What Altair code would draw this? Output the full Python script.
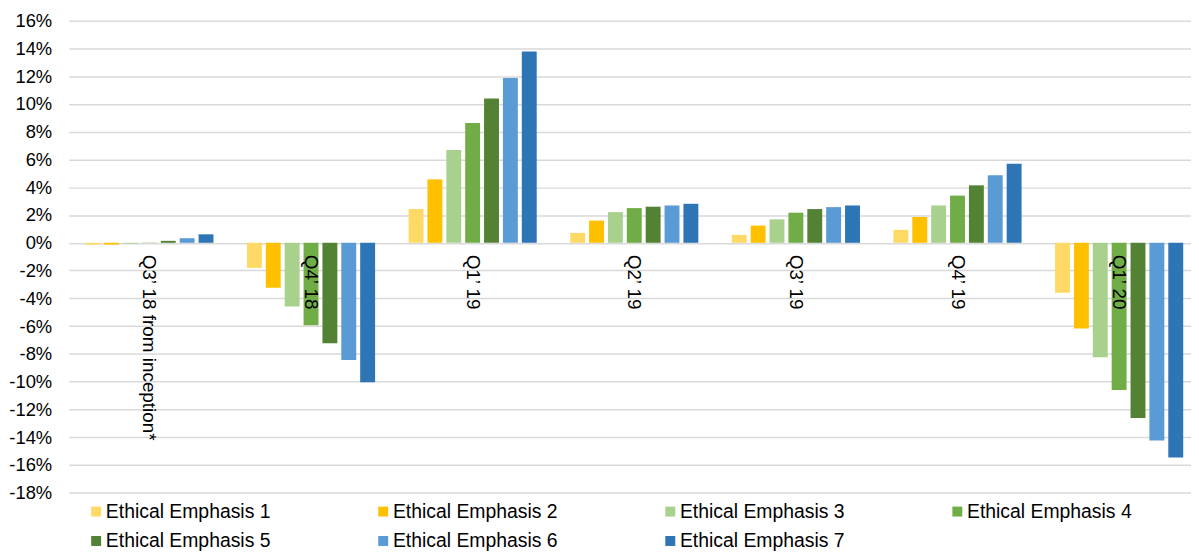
import altair as alt
import pandas as pd

categories = ["Q3’ 18 from inception*", "Q4’ 18", "Q1’ 19", "Q2’ 19", "Q3’ 19", "Q4’ 19", "Q1’ 20"]
series = [f"Ethical Emphasis {i}" for i in range(1, 8)]

# returns in percent
ee1 = [-0.13, -1.81, 2.43, 0.71, 0.57, 0.93, -3.60]
ee2 = [-0.13, -3.24, 4.57, 1.60, 1.24, 1.86, -6.17]
ee3 = [-0.06, -4.60, 6.69, 2.21, 1.69, 2.69, -8.24]
ee4 = [0.02, -5.95, 8.64, 2.50, 2.17, 3.40, -10.60]
ee5 = [0.14, -7.24, 10.40, 2.60, 2.43, 4.14, -12.62]
ee6 = [0.33, -8.45, 11.88, 2.69, 2.57, 4.86, -14.24]
ee7 = [0.61, -10.05, 13.79, 2.81, 2.69, 5.69, -15.48]

colors = ["#FFD966", "#FFC000", "#A9D18E", "#70AD47", "#548235", "#5B9BD5", "#2E75B6"]
y_ticks = [-18, -16, -14, -12, -10, -8, -6, -4, -2, 0, 2, 4, 6, 8, 10, 12, 14, 16]

rows = []
for s, vals in zip(series, [ee1, ee2, ee3, ee4, ee5, ee6, ee7]):
    for c, v in zip(categories, vals):
        rows.append({"quarter": c, "series": s, "value": v / 100})
df = pd.DataFrame(rows)
labels_df = pd.DataFrame({"quarter": categories, "value": [0.0] * len(categories)})

FONT = "Liberation Sans"

x_enc = alt.X(
    "quarter:N",
    sort=categories,
    axis=None,
    scale=alt.Scale(range=[0, 1139], paddingInner=0, paddingOuter=0),
)

y_enc = alt.Y(
    "value:Q",
    scale=alt.Scale(domain=[-0.18, 0.16], nice=False, zero=False),
    axis=alt.Axis(
        values=[t / 100 for t in y_ticks],
        labelExpr="round(datum.value*100) + '%'",
        labelOverlap=False,
        grid=True,
        gridColor="#D9D9D9",
        gridWidth=1.5,
        domain=False,
        ticks=False,
        labelFontSize=18.5,
        labelPadding=17,
        labelColor="#000000",
        title=None,
    ),
)

bars = alt.Chart(df).mark_bar().encode(
    x=x_enc,
    xOffset=alt.XOffset(
        "series:N", sort=series, scale=alt.Scale(paddingInner=0.21, paddingOuter=0.887)
    ),
    y=y_enc,
    color=alt.Color(
        "series:N",
        sort=series,
        scale=alt.Scale(domain=series, range=colors),
        legend=alt.Legend(
            title=None,
            orient="none",
            direction="horizontal",
            legendX=18,
            legendY=484,
            columns=4,
            columnPadding=103,
            rowPadding=9,
            padding=0,
            symbolType="square",
            symbolSize=100,
            symbolStrokeWidth=0,
            labelOffset=0,
            labelFontSize=19.5,
            labelLimit=0,
            labelColor="#000000",
        ),
    ),
)

labels = alt.Chart(labels_df).mark_text(
    angle=90, align="left", baseline="middle", dx=12, fontSize=19, color="#000000", font=FONT
).encode(
    x=alt.X("quarter:N", sort=categories, axis=None),
    y=y_enc,
    text="quarter:N",
)

chart = (
    alt.layer(bars, labels)
    .properties(
        width=1130,
        height=475,
        padding={"left": 61, "top": 11, "right": 0, "bottom": 60},
        autosize=alt.AutoSizeParams(type="none"),
    )
    .configure(font=FONT)
    .configure_view(stroke=None)
)

chart.save("out.html", embed_options={"renderer": "svg", "actions": False})
